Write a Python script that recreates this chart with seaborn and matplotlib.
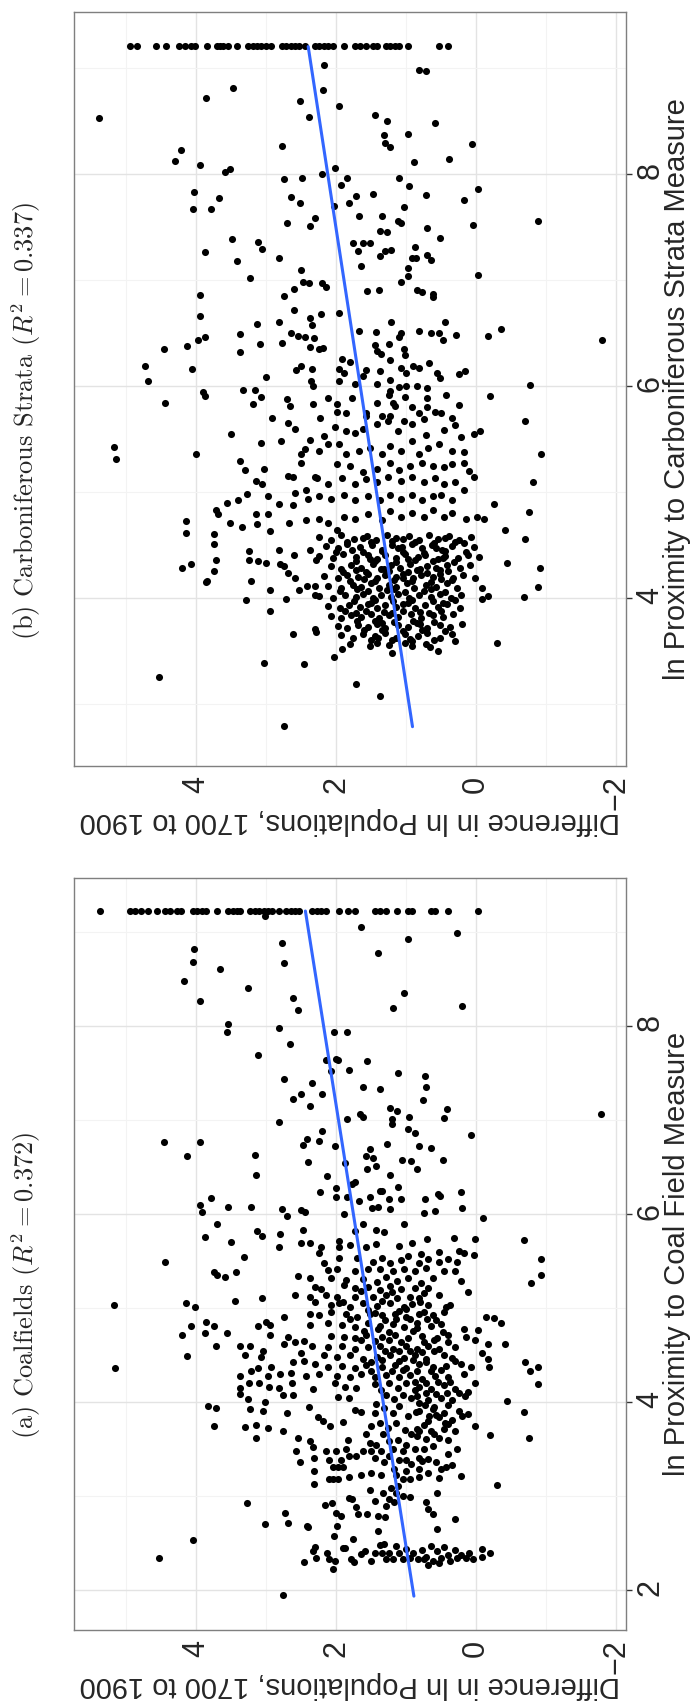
import numpy as np
import pandas as pd
import matplotlib
matplotlib.use("Agg")
import matplotlib.pyplot as plt
import seaborn as sns

sns.set_style("white")
plt.rcParams['font.family'] = ['Liberation Sans', 'DejaVu Sans']
plt.rcParams['mathtext.fontset'] = 'cm'
plt.rcParams['axes.unicode_minus'] = True

# ---------------- panel (a) coalfields: (pop diff, ln proximity) ----------------
a_cap = [(5.38, 9.22), (4.94, 9.22), (4.88, 9.22), (4.79, 9.22), (4.69, 9.22), (4.56, 9.22), (4.45, 9.22),
         (4.37, 9.22), (4.27, 9.22), (4.21, 9.22), (4.04, 9.22), (3.99, 9.22), (3.92, 9.22), (3.86, 9.22),
         (3.70, 9.22), (3.54, 9.22), (3.48, 9.22), (3.42, 9.22), (3.38, 9.22), (3.23, 9.22), (3.16, 9.22),
         (3.10, 9.22), (3.03, 9.22), (2.97, 9.22), (2.91, 9.22), (2.81, 9.22), (2.72, 9.22), (2.65, 9.22),
         (2.59, 9.22), (2.53, 9.22), (2.34, 9.22), (2.27, 9.22), (2.21, 9.22), (2.15, 9.22), (1.96, 9.22),
         (1.83, 9.22), (1.73, 9.22), (1.45, 9.22), (1.38, 9.22), (1.29, 9.22), (1.13, 9.22), (0.97, 9.22),
         (0.91, 9.22), (0.65, 9.22), (0.59, 9.22), (0.40, 9.22), (-0.03, 9.22), (3.02, 9.17)]

a_upper = [(1.64, 9.05), (0.27, 8.99), (2.78, 8.88), (0.98, 8.92), (4.03, 8.82), (4.05, 8.68), (2.74, 8.67),
           (1.40, 8.77), (3.66, 8.60), (4.17, 8.48), (3.26, 8.40), (3.95, 8.26), (2.61, 8.30), (2.55, 8.17),
           (1.03, 8.35), (1.19, 8.19), (0.20, 8.21), (3.54, 8.02), (3.56, 7.93), (2.82, 7.98), (2.03, 7.93),
           (1.85, 7.93), (2.66, 7.81), (3.12, 7.69), (2.15, 7.64), (2.00, 7.65), (1.97, 7.64), (1.56, 7.63),
           (2.08, 7.52), (1.82, 7.53), (2.75, 7.43), (1.12, 7.50), (0.73, 7.47), (0.72, 7.35), (1.61, 7.35),
           (1.37, 7.33), (2.34, 7.39), (2.50, 7.28), (2.61, 7.22), (2.20, 7.28), (2.37, 7.15), (0.76, 7.21),
           (1.23, 7.13), (1.13, 7.09), (0.41, 7.12), (-1.79, 7.06), (1.66, 7.06), (1.61, 7.03), (1.85, 7.01),
           (1.20, 7.01), (0.96, 7.03), (0.46, 7.02), (2.81, 6.98), (1.20, 6.96), (0.97, 6.90), (0.88, 6.86),
           (0.08, 6.84), (4.46, 6.77), (3.94, 6.77), (2.20, 6.88), (2.42, 6.80), (2.25, 6.78), (2.48, 6.73),
           (2.02, 6.72), (1.27, 6.74), (0.81, 6.72), (0.65, 6.70), (4.13, 6.62), (3.16, 6.63), (1.51, 6.69),
           (1.57, 6.62), (1.48, 6.60), (1.06, 6.57), (0.93, 6.56), (0.48, 6.57), (2.40, 6.55), (1.88, 6.54),
           (1.43, 6.51), (1.56, 6.48), (1.23, 6.41), (0.84, 6.48), (3.14, 6.41), (2.13, 6.40), (2.00, 6.28),
           (1.78, 6.32), (1.73, 6.34), (1.11, 6.29), (3.79, 6.17), (2.23, 6.23), (2.00, 6.18), (1.85, 6.18),
           (1.67, 6.14), (1.51, 6.18), (1.37, 6.24), (1.34, 6.24), (1.24, 6.16), (1.08, 6.16), (0.73, 6.16),
           (0.55, 6.21), (0.51, 6.19), (0.21, 6.23)]

a_middle = [(3.94, 6.10), (3.91, 6.02), (3.54, 6.07), (3.21, 6.07), (2.77, 6.05), (2.70, 5.98), (2.50, 6.04),
            (2.44, 6.02), (1.89, 6.00), (1.49, 6.06), (1.40, 6.08), (1.23, 6.05), (0.75, 6.01), (0.59, 6.03),
            (0.20, 6.06), (-0.10, 5.96), (1.03, 5.89), (3.70, 5.89), (3.87, 5.76), (3.13, 5.82), (3.06, 5.77),
            (2.80, 5.79), (2.48, 5.83), (1.61, 5.89), (1.73, 5.82), (1.43, 5.83), (1.32, 5.81), (0.31, 5.75),
            (0.01, 5.74), (-0.69, 5.72), (3.50, 5.70), (2.81, 5.65), (2.50, 5.69), (2.38, 5.69), (2.22, 5.65),
            (2.24, 5.59), (1.96, 5.71), (1.96, 5.65), (1.80, 5.67), (1.57, 5.65), (1.43, 5.68), (1.10, 5.66),
            (0.92, 5.69), (0.79, 5.58), (0.70, 5.73), (0.53, 5.60), (0.25, 5.61), (0.18, 5.59), (0.03, 5.57),
            (4.45, 5.49), (3.31, 5.54), (2.18, 5.48), (1.96, 5.53), (1.70, 5.53), (1.48, 5.49), (1.35, 5.53),
            (1.23, 5.48), (1.07, 5.51), (0.97, 5.55), (0.81, 5.48), (0.69, 5.52), (0.53, 5.49), (0.40, 5.52),
            (0.27, 5.49), (-0.92, 5.52), (2.11, 5.41), (1.99, 5.42), (1.73, 5.40), (1.54, 5.42), (1.38, 5.42),
            (1.19, 5.39), (1.03, 5.42), (0.88, 5.40), (0.72, 5.43), (0.46, 5.39), (0.30, 5.40), (3.75, 5.38),
            (3.70, 5.35), (3.59, 5.33), (3.43, 5.38), (2.54, 5.34), (2.37, 5.32), (2.08, 5.32), (1.86, 5.30),
            (1.61, 5.31), (1.42, 5.28), (1.29, 5.33), (1.13, 5.29), (0.97, 5.32), (0.79, 5.27), (0.62, 5.32),
            (0.21, 5.29), (-0.92, 5.35), (-0.79, 5.27), (2.30, 5.23), (2.21, 5.20), (1.89, 5.25), (1.73, 5.21),
            (1.54, 5.23), (1.38, 5.19), (1.23, 5.24), (1.07, 5.20), (0.88, 5.21), (0.69, 5.21), (0.11, 5.17),
            (2.59, 5.14), (2.37, 5.12), (2.15, 5.14), (1.99, 5.12), (1.73, 5.12), (1.48, 5.12), (1.29, 5.14),
            (1.13, 5.11), (0.94, 5.12), (0.81, 5.11), (0.53, 5.14), (3.06, 5.11), (3.45, 5.08), (5.17, 5.03),
            (4.15, 5.05), (4.02, 5.01), (2.30, 5.07), (2.08, 5.03), (1.96, 5.05), (1.80, 5.01), (1.61, 5.06),
            (1.42, 5.02), (1.23, 5.05), (1.03, 5.01), (0.91, 5.04), (0.69, 5.03), (0.43, 5.01), (0.37, 5.03),
            (2.37, 4.94), (2.24, 4.93), (2.08, 4.96), (1.86, 4.94), (1.70, 4.91), (1.51, 4.94), (1.35, 4.93),
            (1.16, 4.94), (1.00, 4.91), (0.81, 4.94), (0.62, 4.93), (0.46, 4.96), (-0.14, 4.91), (-0.25, 4.90),
            (2.74, 4.91), (3.86, 4.85), (3.74, 4.81), (4.07, 4.81), (3.00, 4.85), (3.12, 4.81), (2.94, 4.82),
            (2.37, 4.82), (2.11, 4.84), (1.92, 4.82), (1.73, 4.80), (1.54, 4.84), (1.38, 4.81), (1.19, 4.83),
            (1.03, 4.80), (0.84, 4.84), (0.65, 4.81), (0.50, 4.83), (0.18, 4.78), (-0.35, 4.84), (4.20, 4.72),
            (3.88, 4.74), (3.56, 4.74), (2.95, 4.71), (2.69, 4.69), (2.08, 4.70), (1.89, 4.69), (1.73, 4.68),
            (1.57, 4.71), (1.35, 4.69), (1.16, 4.71), (0.97, 4.68), (0.78, 4.70), (0.56, 4.68), (0.40, 4.71),
            (0.15, 4.69), (-0.03, 4.77), (0.02, 4.66), (3.71, 4.60), (3.38, 4.60), (3.23, 4.60), (3.04, 4.55),
            (2.75, 4.62), (2.59, 4.64), (2.46, 4.65), (2.34, 4.60), (2.11, 4.59), (1.92, 4.60), (1.73, 4.57),
            (1.54, 4.59), (1.38, 4.60), (1.19, 4.57), (1.00, 4.60), (0.84, 4.57), (0.69, 4.60), (0.53, 4.57),
            (0.30, 4.59), (-0.17, 4.62), (-0.41, 4.62), (4.13, 4.49), (3.30, 4.50), (3.07, 4.48), (2.50, 4.52),
            (2.18, 4.50), (1.99, 4.48), (1.80, 4.50), (1.61, 4.46), (1.42, 4.48), (1.23, 4.50), (1.03, 4.47),
            (0.88, 4.50), (0.72, 4.46), (0.46, 4.50), (0.34, 4.47), (-0.08, 4.52), (-0.17, 4.46), (5.16, 4.36),
            (2.62, 4.43), (2.46, 4.44), (2.30, 4.41), (2.11, 4.37), (1.92, 4.39), (1.73, 4.36), (1.57, 4.40),
            (1.35, 4.37), (1.16, 4.40), (1.00, 4.36), (0.81, 4.41), (0.62, 4.37), (0.43, 4.39), (0.21, 4.41),
            (0.08, 4.37), (-0.19, 4.37), (-0.70, 4.43), (-0.88, 4.38), (-0.77, 4.33), (2.93, 4.37), (3.11, 4.36),
            (3.22, 4.33), (3.38, 4.28), (2.97, 4.28), (2.80, 4.30), (2.64, 4.31), (2.43, 4.28), (2.24, 4.30),
            (1.99, 4.28), (1.80, 4.27), (1.64, 4.30), (1.45, 4.27), (1.29, 4.29), (1.10, 4.27), (0.94, 4.29),
            (0.78, 4.25), (0.59, 4.28), (0.40, 4.27), (0.18, 4.30), (0.02, 4.21), (-0.88, 4.19), (0.81, 4.16),
            (0.65, 4.14), (0.46, 4.18), (0.30, 4.14), (0.11, 4.11)]

# extra points filling the dense core of (a)
a_core = [(1.45, 4.95), (1.10, 4.97), (0.75, 4.96), (1.30, 4.87), (0.95, 4.88), (0.58, 4.87), (1.60, 4.76),
          (1.25, 4.75), (0.90, 4.76), (0.48, 4.75), (1.45, 4.65), (1.08, 4.64), (0.75, 4.64), (0.40, 4.64),
          (1.30, 4.54), (0.95, 4.55), (0.60, 4.54), (1.50, 4.43), (1.10, 4.44), (0.72, 4.43), (0.30, 4.44),
          (1.20, 4.33), (0.85, 4.33), (0.50, 4.34), (0.72, 4.21), (0.38, 4.22), (0.58, 4.09), (0.25, 4.10),
          (0.73, 3.97), (0.40, 3.97), (0.57, 3.86), (0.20, 3.85), (0.75, 3.76), (0.40, 3.77), (0.60, 3.66),
          (0.62, 3.54), (0.40, 3.45), (0.58, 3.36), (1.65, 5.18), (1.20, 5.17), (0.75, 5.16), (1.90, 5.07),
          (1.35, 5.08), (0.80, 5.07), (1.55, 4.98), (1.00, 4.99), (1.80, 4.88), (1.15, 4.88), (0.70, 4.89),
          (1.40, 4.78), (0.85, 4.79), (1.65, 4.66), (1.25, 4.66), (0.60, 4.66), (1.10, 4.54), (0.78, 4.53),
          (1.35, 4.45), (0.90, 4.45), (1.50, 4.33), (1.05, 4.34), (0.65, 4.33), (0.88, 4.22), (0.55, 4.22),
          (0.72, 4.10), (0.42, 4.10), (0.60, 3.95), (0.68, 3.85), (0.45, 3.78)]

a_lower = [(2.30, 2.46), (2.33, 2.42), (2.29, 2.34), (2.46, 2.30), (2.13, 2.40), (2.10, 2.33), (2.02, 2.31),
           (2.04, 2.23), (1.88, 2.45), (1.76, 2.55), (1.79, 2.33), (1.74, 2.30), (1.64, 2.39), (1.59, 2.42),
           (1.50, 2.31), (1.45, 2.40), (1.38, 2.48), (1.32, 2.49), (1.34, 2.40), (1.29, 2.33), (1.24, 2.40),
           (1.19, 2.33), (1.14, 2.47), (1.10, 2.40), (1.05, 2.33), (1.00, 2.44), (0.95, 2.35), (0.90, 2.40),
           (0.83, 2.33), (1.40, 2.63), (1.90, 2.45), (2.76, 1.95), (4.05, 2.54), (3.01, 2.71), (3.27, 2.93),
           (2.73, 2.82), (2.69, 2.72), (2.42, 2.69), (2.40, 2.67), (2.16, 2.91), (2.06, 2.93), (2.00, 2.82),
           (1.93, 2.79), (1.99, 2.68), (2.03, 2.58), (1.81, 2.98), (1.77, 2.97), (1.72, 2.89), (1.69, 2.81),
           (1.56, 2.81), (1.51, 3.07), (1.45, 2.95), (1.40, 2.79), (1.30, 2.78), (1.29, 2.90), (1.24, 2.97),
           (1.18, 2.94), (1.05, 3.00), (0.94, 2.99), (1.12, 3.11), (0.95, 3.18), (1.83, 3.60), (1.86, 3.50),
           (2.14, 3.48), (2.10, 3.39), (2.00, 3.48), (1.93, 3.39), (1.81, 3.43), (1.71, 3.43), (1.62, 3.48),
           (1.50, 3.48), (1.45, 3.41), (1.36, 3.48), (1.31, 3.37), (1.24, 3.43), (1.18, 3.29), (1.05, 3.18),
           (1.10, 3.39), (1.00, 3.39), (2.04, 3.31), (1.98, 3.31), (1.90, 3.31), (2.10, 3.18), (2.04, 3.18),
           (1.98, 3.18), (1.81, 3.21), (1.64, 3.23), (1.50, 3.25), (1.36, 3.23), (2.31, 3.41), (2.32, 3.27),
           (2.31, 3.13), (2.52, 3.37), (2.57, 3.48), (2.54, 3.62), (2.38, 3.59), (2.33, 3.53), (2.26, 3.84),
           (2.19, 3.80), (2.09, 3.75), (1.90, 3.79), (1.73, 3.92), (1.64, 3.90), (1.45, 3.89), (2.76, 3.70),
           (2.70, 3.89), (2.97, 3.73), (3.15, 3.76), (3.30, 3.74), (3.14, 3.62), (3.75, 3.75), (3.83, 3.96),
           (3.72, 3.94), (3.26, 4.03), (3.23, 3.93), (3.05, 3.91), (3.01, 4.00), (3.37, 4.09), (3.37, 4.15),
           (3.24, 4.21), (3.10, 4.21), (2.96, 4.16), (2.81, 4.15), (2.76, 4.08), (2.63, 4.20), (2.61, 4.08),
           (2.33, 4.14), (2.39, 3.95), (2.01, 4.20), (1.98, 4.06), (1.88, 4.16), (1.82, 4.05), (1.71, 4.15),
           (1.45, 4.19), (1.36, 4.13), (1.24, 4.21), (1.12, 4.15), (1.00, 4.21), (0.88, 4.13), (1.29, 4.08),
           (1.17, 4.03), (1.05, 4.08), (0.93, 4.05), (0.81, 3.99), (1.43, 3.98), (1.31, 3.94), (1.19, 3.89),
           (1.10, 3.96), (0.98, 3.85), (0.86, 3.90), (1.50, 3.75), (1.38, 3.78), (1.26, 3.73), (1.14, 3.78),
           (1.02, 3.71), (0.93, 3.66), (0.81, 3.69), (1.33, 3.66), (1.24, 3.59), (1.12, 3.60), (1.00, 3.55),
           (0.88, 3.50), (0.81, 3.41), (1.43, 3.55), (1.57, 3.66), (1.52, 3.57), (1.19, 3.50), (1.05, 3.48),
           (0.93, 3.34), (1.14, 3.23), (1.21, 3.09), (1.00, 3.27), (0.81, 3.21), (1.33, 3.04), (1.14, 3.04)]

a_lower_right = [(0.84, 4.07), (0.69, 4.02), (0.50, 4.05), (0.34, 4.02), (0.16, 4.07), (-0.44, 4.01),
                 (0.81, 3.91), (0.62, 3.93), (0.46, 3.89), (0.24, 3.91), (0.11, 3.88), (-0.68, 3.90),
                 (0.69, 3.80), (0.53, 3.84), (0.34, 3.81), (0.01, 3.75), (0.84, 3.72), (0.65, 3.70),
                 (0.46, 3.72), (0.30, 3.70), (0.84, 3.64), (0.72, 3.61), (0.53, 3.62), (0.40, 3.60),
                 (-0.20, 3.65), (-0.76, 3.62), (0.75, 3.50), (0.27, 3.50), (0.78, 3.38), (0.69, 3.40),
                 (0.43, 3.31), (0.34, 3.33), (0.81, 3.29), (0.69, 3.25), (0.50, 3.29), (0.53, 3.20),
                 (0.21, 3.22), (0.56, 3.04), (-0.30, 3.12), (0.72, 2.94), (0.69, 2.87), (0.62, 2.81),
                 (0.30, 2.76), (0.56, 2.65), (0.78, 2.43), (0.72, 2.36), (0.65, 2.47), (0.62, 2.31),
                 (0.56, 2.42), (0.50, 2.35), (0.46, 2.46), (0.40, 2.38), (0.37, 2.31), (0.30, 2.43),
                 (0.27, 2.35), (0.21, 2.38), (0.15, 2.35), (0.10, 2.40), (0.05, 2.33), (-0.08, 2.44),
                 (-0.09, 2.36), (-0.20, 2.40), (0.53, 2.29), (0.75, 2.33), (0.69, 2.27), (4.53, 2.34)]

# fitted line (a), read at its two ends
a_fit_pop = [0.89, 2.44]
a_fit_prox = [1.94, 9.22]

# ---------------- panel (b) carboniferous strata ----------------
b_cap = [(4.94, 9.21), (4.84, 9.21), (4.58, 9.21), (4.43, 9.21), (4.24, 9.21), (4.16, 9.21), (4.07, 9.21),
         (4.01, 9.21), (3.85, 9.21), (3.70, 9.21), (3.66, 9.21), (3.61, 9.21), (3.54, 9.21), (3.42, 9.21),
         (3.26, 9.21), (3.19, 9.21), (3.13, 9.21), (3.07, 9.21), (3.00, 9.21), (2.93, 9.21), (2.78, 9.21),
         (2.72, 9.21), (2.65, 9.21), (2.59, 9.21), (2.53, 9.21), (2.44, 9.21), (2.30, 9.21), (2.24, 9.21),
         (2.18, 9.21), (2.11, 9.21), (2.05, 9.21), (1.89, 9.21), (1.73, 9.21), (1.66, 9.21), (1.57, 9.21),
         (1.48, 9.21), (1.42, 9.21), (1.29, 9.21), (1.23, 9.21), (1.16, 9.21), (1.10, 9.21), (0.98, 9.21),
         (0.53, 9.21), (0.40, 9.21)]

b_upper = [(2.17, 9.03), (0.82, 8.98), (0.72, 8.97), (3.47, 8.81), (2.19, 8.79), (3.86, 8.72), (2.51, 8.69),
           (1.96, 8.64), (5.39, 8.53), (2.39, 8.54), (1.44, 8.56), (1.27, 8.50), (0.59, 8.48), (1.32, 8.37),
           (0.97, 8.38), (1.30, 8.29), (1.23, 8.25), (0.06, 8.28), (2.78, 8.26), (4.22, 8.23), (4.30, 8.12),
           (3.94, 8.08), (0.89, 8.11), (0.39, 8.14), (3.59, 8.02), (3.52, 8.05), (2.20, 8.00), (2.02, 8.06),
           (2.75, 7.95), (2.49, 7.96), (1.84, 7.96), (1.10, 7.96), (1.93, 7.90), (0.96, 7.89), (-0.03, 7.86),
           (4.03, 7.83), (0.71, 7.80), (2.64, 7.78), (1.72, 7.79), (1.48, 7.81), (3.68, 7.77), (2.52, 7.73),
           (1.82, 7.73), (0.18, 7.75), (4.04, 7.67), (3.79, 7.67), (2.03, 7.70), (1.03, 7.69), (-0.88, 7.56),
           (2.70, 7.54), (2.30, 7.58), (2.37, 7.51), (1.68, 7.60), (1.35, 7.60), (1.11, 7.56), (1.08, 7.54),
           (0.04, 7.52), (0.70, 7.49), (1.38, 7.46), (1.27, 7.45), (0.51, 7.40), (3.49, 7.39), (3.12, 7.36),
           (1.76, 7.35), (1.61, 7.35), (1.52, 7.35), (3.06, 7.29), (1.69, 7.27), (3.87, 7.26), (0.88, 7.31),
           (1.21, 7.28), (1.30, 7.27), (1.38, 7.23), (2.81, 7.21), (0.70, 7.24), (0.92, 7.21), (0.86, 7.21),
           (0.65, 7.19), (3.42, 7.18), (1.64, 7.13), (0.97, 7.11), (0.97, 7.04), (-0.02, 7.05), (2.50, 7.09),
           (3.23, 7.02), (2.47, 6.98), (2.39, 6.97), (2.20, 6.97), (2.15, 6.93), (1.07, 6.98), (3.94, 6.86),
           (2.60, 6.92), (2.74, 6.85), (1.56, 6.90), (1.39, 6.91), (0.84, 6.91), (0.78, 6.89), (0.62, 6.87),
           (0.62, 6.84)]

b_middle = [(2.60, 6.72), (3.94, 6.66), (2.21, 6.68), (1.96, 6.69), (3.13, 6.59), (2.82, 6.60), (2.37, 6.64),
            (2.35, 6.58), (1.21, 6.60), (0.44, 6.60), (-0.35, 6.54), (-0.17, 6.47), (1.67, 6.52), (1.43, 6.51),
            (0.81, 6.52), (0.64, 6.50), (0.53, 6.50), (0.29, 6.48), (1.08, 6.50), (1.10, 6.46), (3.37, 6.49),
            (2.64, 6.50), (2.55, 6.47), (2.44, 6.46), (2.31, 6.45), (-1.80, 6.43), (0.48, 6.43), (3.87, 6.46),
            (3.97, 6.43), (4.13, 6.38), (4.46, 6.35), (3.09, 6.40), (2.77, 6.41), (2.38, 6.37), (2.19, 6.36),
            (2.24, 6.35), (1.45, 6.39), (1.24, 6.40), (1.03, 6.35), (1.41, 6.33), (3.37, 6.32), (1.36, 6.30),
            (1.02, 6.29), (4.73, 6.19), (4.06, 6.16), (4.69, 6.05), (4.45, 5.84), (3.90, 5.94), (3.87, 5.91),
            (3.33, 5.96), (3.16, 5.96), (3.08, 5.90), (3.00, 6.09), (2.58, 6.15), (2.50, 6.19), (2.34, 6.16),
            (2.36, 6.05), (2.33, 6.00), (1.92, 6.26), (1.80, 6.23), (1.96, 6.16), (1.89, 6.12), (1.96, 6.05),
            (1.73, 6.02), (1.57, 6.15), (1.61, 6.10), (1.38, 6.14), (1.23, 6.25), (1.07, 6.17), (1.00, 6.12),
            (0.90, 6.19), (0.81, 6.17), (0.68, 6.22), (0.56, 6.12), (0.51, 6.08), (0.16, 6.14), (0.24, 6.11),
            (1.23, 6.06), (1.42, 6.02), (1.10, 5.99), (1.00, 6.00), (0.84, 6.00), (0.70, 5.98), (-0.77, 6.01),
            (-0.20, 5.91), (1.23, 5.95), (1.24, 5.92), (1.02, 5.90), (0.43, 5.92), (2.70, 5.88), (2.66, 5.81),
            (2.11, 5.89), (1.99, 5.83), (1.77, 5.89), (2.33, 5.83), (1.42, 5.84), (1.19, 5.84), (1.16, 5.81),
            (0.92, 5.80), (0.70, 5.89), (0.70, 5.80), (0.24, 5.82), (3.19, 5.83), (2.92, 5.70), (2.69, 5.65),
            (2.59, 5.60), (2.23, 5.70), (1.99, 5.76), (1.86, 5.75), (1.57, 5.75), (1.57, 5.72), (1.35, 5.72),
            (1.23, 5.72), (1.26, 5.67), (1.03, 5.67), (0.81, 5.75), (0.75, 5.69), (0.59, 5.76), (0.50, 5.75),
            (0.35, 5.70), (0.30, 5.63), (-0.70, 5.67), (3.50, 5.55), (3.08, 5.46), (2.79, 5.48), (2.37, 5.49),
            (2.18, 5.53), (2.02, 5.61), (1.86, 5.58), (1.73, 5.56), (1.61, 5.60), (1.42, 5.64), (1.11, 5.58),
            (0.91, 5.64), (0.72, 5.54), (0.46, 5.59), (0.21, 5.52), (0.03, 5.55), (-0.06, 5.58), (5.17, 5.43),
            (5.15, 5.31), (4.00, 5.36), (3.37, 5.29), (3.30, 5.21), (3.03, 5.22), (2.50, 5.36), (2.44, 5.41),
            (2.24, 5.39), (2.11, 5.45), (1.96, 5.45), (1.86, 5.36), (1.67, 5.39), (1.51, 5.42), (1.35, 5.36),
            (1.23, 5.44), (1.07, 5.39), (0.91, 5.48), (0.81, 5.36), (0.69, 5.42), (0.53, 5.45), (0.34, 5.39),
            (0.18, 5.38), (-0.92, 5.36), (2.50, 5.28), (1.99, 5.27), (1.80, 5.25), (1.61, 5.19), (1.42, 5.22),
            (1.23, 5.28), (1.10, 5.21), (0.94, 5.25), (0.78, 5.28), (0.62, 5.25), (0.46, 5.24), (0.34, 5.27),
            (0.18, 5.28), (0.10, 5.20), (0.03, 5.14), (2.69, 5.15), (2.61, 5.14), (2.27, 5.13), (2.11, 5.08),
            (1.92, 5.13), (1.73, 5.08), (1.57, 5.12), (1.42, 5.10), (1.26, 5.14), (1.07, 5.11), (0.91, 5.14),
            (0.75, 5.10), (0.59, 5.13), (0.46, 5.08), (0.30, 5.10), (-0.81, 5.10), (3.14, 5.11), (3.06, 5.08),
            (2.98, 4.96), (2.81, 4.89), (2.62, 4.88), (2.43, 5.02), (2.40, 4.94), (2.24, 4.96), (2.08, 4.94),
            (1.89, 4.97), (1.73, 4.93), (1.54, 4.96), (1.38, 4.93), (1.23, 4.97), (1.07, 4.94), (0.91, 4.97),
            (0.78, 4.93), (0.62, 4.96), (0.50, 4.97), (0.34, 4.93), (0.18, 5.02), (-0.25, 4.89), (3.56, 4.90),
            (3.40, 4.93), (3.27, 4.98), (3.71, 4.83), (3.69, 4.79), (4.15, 4.73), (4.14, 4.62), (3.51, 4.71),
            (3.35, 4.67), (3.14, 4.79), (2.97, 4.79), (3.13, 4.70), (2.94, 4.63), (3.74, 4.61), (3.74, 4.51),
            (2.67, 4.71), (2.43, 4.74), (2.24, 4.75), (2.11, 4.71), (1.99, 4.64), (1.89, 4.77), (1.73, 4.75),
            (1.54, 4.79), (1.35, 4.74), (1.23, 4.82), (1.07, 4.77), (0.91, 4.80), (0.75, 4.77), (0.62, 4.83),
            (0.46, 4.77), (0.34, 4.80), (0.15, 4.75), (-0.01, 4.77), (-0.11, 4.75), (-0.41, 4.64), (-0.70, 4.56),
            (-0.76, 4.81), (3.24, 4.45), (3.24, 4.36), (3.11, 4.35), (3.00, 4.33), (2.80, 4.32), (2.75, 4.30),
            (2.60, 4.41), (2.69, 4.24), (2.59, 4.19), (4.20, 4.29), (4.07, 4.32), (3.71, 4.36), (3.74, 4.26),
            (3.84, 4.16), (3.86, 4.15), (3.22, 4.16), (2.95, 4.08), (3.29, 3.98), (2.72, 3.99), (2.95, 3.88),
            (2.53, 4.08), (2.41, 4.12), (2.30, 4.12), (2.30, 4.03), (2.62, 3.66), (2.30, 3.71), (2.29, 3.68),
            (-0.91, 4.29), (-0.89, 4.11), (-0.69, 4.01), (-0.44, 4.33), (-0.08, 3.99), (-0.17, 4.02),
            (-0.08, 4.10), (0.02, 4.19), (2.59, 4.99), (2.30, 5.14), (2.81, 4.46), (2.37, 4.46), (2.29, 4.36)]

b_core = [(2.24, 4.58), (2.07, 4.55), (1.93, 4.60), (1.74, 4.56), (1.56, 4.59), (1.43, 4.55), (1.28, 4.60),
          (1.14, 4.57), (0.96, 4.59), (0.82, 4.55), (0.68, 4.60), (0.54, 4.56), (0.39, 4.59), (0.25, 4.55),
          (0.07, 4.58), (2.15, 4.49), (1.98, 4.47), (1.84, 4.51), (1.66, 4.48), (1.49, 4.50), (1.34, 4.46),
          (1.20, 4.50), (1.06, 4.48), (0.92, 4.51), (0.77, 4.47), (0.63, 4.50), (0.49, 4.46), (0.35, 4.49),
          (0.17, 4.52), (0.03, 4.48), (2.24, 4.40), (2.04, 4.38), (1.90, 4.42), (1.72, 4.39), (1.55, 4.41),
          (1.41, 4.37), (1.30, 4.41), (1.15, 4.38), (1.01, 4.42), (0.83, 4.39), (0.73, 4.41), (0.55, 4.37),
          (0.44, 4.40), (0.26, 4.38), (0.12, 4.41), (-0.04, 4.39), (2.08, 4.30), (1.93, 4.28), (1.79, 4.31),
          (1.65, 4.29), (1.47, 4.32), (1.36, 4.28), (1.22, 4.31), (1.09, 4.29), (0.95, 4.32), (0.80, 4.28),
          (0.70, 4.30), (0.52, 4.27), (0.41, 4.31), (0.23, 4.29), (0.09, 4.31), (2.18, 4.21), (1.98, 4.19),
          (1.84, 4.22), (1.69, 4.20), (1.55, 4.23), (1.41, 4.19), (1.30, 4.22), (1.15, 4.20), (1.04, 4.23),
          (0.90, 4.19), (0.79, 4.22), (0.61, 4.20), (0.51, 4.23), (0.33, 4.19), (0.19, 4.22), (2.11, 4.12),
          (1.93, 4.10), (1.76, 4.13), (1.65, 4.11), (1.50, 4.14), (1.39, 4.10), (1.25, 4.13), (1.14, 4.11),
          (0.99, 4.14), (0.89, 4.10), (0.71, 4.13), (0.57, 4.11), (0.42, 4.14), (0.28, 4.10), (2.24, 4.02),
          (2.04, 4.00), (1.87, 4.03), (1.72, 4.01), (1.62, 4.04), (1.47, 4.00), (1.36, 4.03), (1.22, 4.01),
          (1.11, 4.04), (0.96, 4.00), (0.82, 4.03), (0.64, 4.01), (0.51, 4.04), (0.36, 4.00), (0.22, 4.03),
          (2.12, 3.93), (1.95, 3.91), (1.81, 3.94), (1.66, 3.92), (1.55, 3.95), (1.41, 3.91), (1.30, 3.94),
          (1.15, 3.92), (1.04, 3.95), (0.87, 3.91), (0.73, 3.94), (0.55, 3.92), (0.41, 3.95), (0.23, 3.91),
          (2.07, 3.83), (1.93, 3.81), (1.79, 3.84), (1.65, 3.82), (1.50, 3.85), (1.39, 3.81), (1.25, 3.84),
          (1.11, 3.82), (0.93, 3.85), (0.79, 3.81), (0.61, 3.84), (0.47, 3.82), (0.33, 3.85), (1.98, 3.74),
          (1.84, 3.72), (1.69, 3.75), (1.55, 3.73), (1.41, 3.76), (1.30, 3.72), (1.12, 3.75), (0.98, 3.73),
          (0.80, 3.76), (0.70, 3.72), (0.52, 3.75), (0.38, 3.73), (0.20, 3.76), (1.93, 3.65), (1.76, 3.63),
          (1.62, 3.66), (1.44, 3.64), (1.30, 3.67), (1.15, 3.63), (1.01, 3.66), (0.83, 3.64), (0.70, 3.67),
          (0.52, 3.63), (0.35, 3.66), (1.80, 3.57), (1.51, 3.55), (1.41, 3.58), (1.24, 3.56), (1.02, 3.58),
          (0.92, 3.55), (0.71, 3.57), (0.66, 3.54)]

# in-between points of the (b) core
b_core2 = [(1.85, 4.53), (1.50, 4.53), (1.20, 4.54), (0.88, 4.53), (0.60, 4.52), (0.30, 4.53), (2.00, 4.44),
           (1.62, 4.44), (1.35, 4.45), (1.05, 4.44), (0.75, 4.43), (0.45, 4.45), (0.15, 4.44), (1.72, 4.35),
           (1.45, 4.35), (1.15, 4.34), (0.88, 4.36), (0.62, 4.35), (0.32, 4.34), (1.90, 4.25), (1.58, 4.25),
           (1.25, 4.26), (0.97, 4.25), (0.70, 4.24), (0.40, 4.26), (1.80, 4.16), (1.45, 4.16), (1.18, 4.17),
           (0.92, 4.16), (0.64, 4.15), (0.35, 4.17), (1.95, 4.07), (1.55, 4.07), (1.28, 4.08), (1.02, 4.06),
           (0.75, 4.07), (0.45, 4.06), (1.75, 3.97), (1.45, 3.98), (1.19, 3.97), (0.92, 3.98), (0.62, 3.97),
           (0.30, 3.98), (1.88, 3.88), (1.58, 3.88), (1.32, 3.87), (1.05, 3.88), (0.80, 3.87), (0.50, 3.88),
           (1.70, 3.79), (1.45, 3.79), (1.18, 3.78), (0.90, 3.79), (0.60, 3.78), (1.60, 3.70), (1.35, 3.70),
           (1.05, 3.69), (0.78, 3.70), (0.45, 3.69), (1.50, 3.61), (1.20, 3.61), (0.92, 3.60), (0.60, 3.61),
           (1.62, 4.57), (1.05, 4.56), (0.45, 4.57), (1.78, 4.46), (1.12, 4.47), (0.58, 4.47), (1.52, 4.37),
           (0.98, 4.37), (0.48, 4.38), (1.72, 4.27), (1.32, 4.28), (0.85, 4.27), (0.58, 4.29), (1.60, 4.18),
           (1.05, 4.19), (0.50, 4.18), (1.70, 4.09), (1.18, 4.09), (0.65, 4.09), (1.50, 3.96), (0.98, 3.96),
           (0.48, 3.96), (1.72, 3.86), (1.20, 3.86), (0.68, 3.86), (1.35, 3.77), (0.85, 3.77), (1.40, 3.63),
           (0.95, 3.62)]

b_lower = [(3.03, 3.39), (2.46, 3.38), (2.03, 3.45), (4.53, 3.26), (1.71, 3.19), (1.37, 3.08), (-0.30, 3.58),
           (2.74, 2.80), (1.92, 3.52), (1.20, 3.48), (0.55, 3.50), (0.30, 3.60)]

b_fit_pop = [0.91, 2.40]
b_fit_prox = [2.79, 9.20]

pop_ticks = [4, 2, 0, -2]
pop_minor = [5, 3, 1, -1]
pop_lim = (5.746, -2.14)
ylab = "Difference in ln Populations, 1700 to 1900"


def draw_panel(ax, pts, fit_pop, fit_prox, prox_lim, prox_ticks, xlab):
    df = pd.DataFrame(pts, columns=["pop", "prox"])
    sns.scatterplot(data=df, x="pop", y="prox", color="black", s=26, linewidth=0, ax=ax, zorder=3)
    sns.lineplot(x=fit_pop, y=fit_prox, color="#3366FF", linewidth=2.2, ax=ax, zorder=4)

    ax.set_xlim(*pop_lim)
    ax.set_ylim(*prox_lim)
    ax.set_xticks(pop_ticks)
    ax.set_xticks(pop_minor, minor=True)
    ax.set_yticks(prox_ticks)
    ax.set_yticks([3, 5, 7, 9], minor=True)
    ax.set_axisbelow(True)
    ax.grid(which="major", color="#E3E3E3", linewidth=1.0)
    ax.grid(which="minor", color="#F3F3F3", linewidth=0.8)
    for sp in ax.spines.values():
        sp.set_color("#7F7F7F")
        sp.set_linewidth(1.0)

    ax.tick_params(which="minor", length=0)
    ax.tick_params(axis="x", which="major", labelrotation=90, labelsize=22, length=4,
                   width=1, color="#333333", pad=3)
    ax.tick_params(axis="y", which="major", labelrotation=90, labelsize=22, length=4, width=1,
                   color="#333333", pad=3, left=False, right=True, labelleft=False, labelright=True)

    ax.set_xlabel(ylab, fontsize=21, rotation=180)
    ax.xaxis.set_label_coords(0.5, -0.073)
    ax.xaxis.label.set_va("center")
    ax.yaxis.set_label_position("right")
    ax.set_ylabel(xlab, fontsize=21)
    ax.yaxis.set_label_coords(1.093, 0.5)
    ax.yaxis.label.set_va("center")
    ax.yaxis.label.set_ha("center")


fig = plt.figure(figsize=(6.94, 17.07), dpi=100)
ax_b = fig.add_axes([0.1066, 0.5513, 0.7954, 0.4419])
ax_a = fig.add_axes([0.1066, 0.0451, 0.7954, 0.4405])

draw_panel(ax_a, a_cap + a_upper + a_middle + a_core + a_lower + a_lower_right, a_fit_pop, a_fit_prox,
           (1.58, 9.57), [2, 4, 6, 8], "ln Proximity to Coal Field Measure")
draw_panel(ax_b, b_cap + b_upper + b_middle + b_core + b_core2 + b_lower, b_fit_pop, b_fit_prox,
           (2.42, 9.53), [4, 6, 8], "ln Proximity to Carboniferous Strata Measure")

fig.text(0.0375, 0.2472, r"(a) Coalfields ($R^2 = 0.372$)", rotation=90, ha="center", va="center",
         fontsize=19, family="cmr10")
fig.text(0.0375, 0.7531, r"(b) Carboniferous Strata ($R^2 = 0.337$)", rotation=90, ha="center",
         va="center", fontsize=19, family="cmr10")

fig.savefig("out.png", dpi=100)
